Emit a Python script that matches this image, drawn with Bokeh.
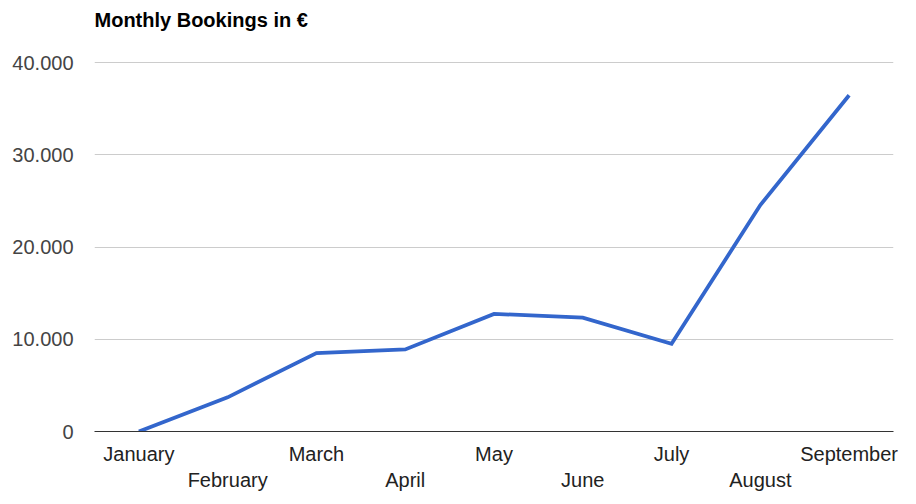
from bokeh.plotting import figure
from bokeh.models import LinearAxis, FixedTicker, Range1d, Title
from bokeh.embed import file_html
from bokeh.resources import INLINE

months = ["January", "February", "March", "April", "May", "June", "July", "August", "September"]
bookings = [0, 3700, 8500, 8900, 12750, 12350, 9500, 24550, 36450]
y_ticks = [0, 10000, 20000, 30000, 40000]
y_tick_labels = ["0", "10.000", "20.000", "30.000", "40.000"]
title_text = "Monthly Bookings in €"

FONT = "Liberation Sans"

# category index positions (each month is one slot of the x scale)
x_idx = list(range(len(months)))

p = figure(x_range=Range1d(-0.5, len(months) - 0.5), y_range=Range1d(0, 40110),
           frame_width=799, frame_height=370, title=None,
           output_backend="svg", toolbar_location=None, x_axis_location=None,
           min_border_left=94, min_border_right=15, min_border_top=0,
           min_border_bottom=65)
p.outline_line_color = None
p.background_fill_color = "white"
p.border_fill_color = "white"

# spacer between title and plot area (stacked nearest the frame)
spacer = Title(text=" ", text_font=FONT, text_font_size="20px", standoff=1, align="left")
p.add_layout(spacer, "above")

main_title = Title(text=title_text, text_font=FONT, text_font_size="20px",
                   text_font_style="bold", text_color="#000000", align="left", standoff=12)
p.add_layout(main_title, "above")

# y axis
yax = p.yaxis[0]
yax.ticker = FixedTicker(ticks=y_ticks)
yax.major_label_overrides = {t: l for t, l in zip(y_ticks, y_tick_labels)}
yax.axis_line_color = None
yax.major_tick_line_color = None
yax.minor_tick_line_color = None
yax.major_label_standoff = 15
yax.major_label_text_font = FONT
yax.major_label_text_font_size = "20px"
yax.major_label_text_color = "#444444"

p.ygrid.ticker = FixedTicker(ticks=y_ticks)
p.ygrid.grid_line_color = "#cccccc"
p.ygrid.grid_line_width = 1
p.xgrid.grid_line_color = None


def month_axis(idx, standoff, line_color):
    ax = LinearAxis(ticker=FixedTicker(ticks=idx, minor_ticks=[]),
                    major_label_overrides={i: months[i] for i in idx})
    ax.axis_line_color = line_color
    ax.axis_line_width = 1
    ax.major_tick_line_color = None
    ax.minor_tick_line_color = None
    ax.major_label_standoff = standoff
    ax.major_label_text_font = FONT
    ax.major_label_text_font_size = "20px"
    ax.major_label_text_color = "#222222"
    return ax


# staggered month labels: two rows below the plot
p.add_layout(month_axis(x_idx[0::2], 5, "#333333"), "below")
p.add_layout(month_axis(x_idx[1::2], -5, None), "below")

p.line(x_idx, bookings, line_color="#3366cc", line_width=3.8, line_join="miter")

open("out.html", "w").write(file_html(p, INLINE))
